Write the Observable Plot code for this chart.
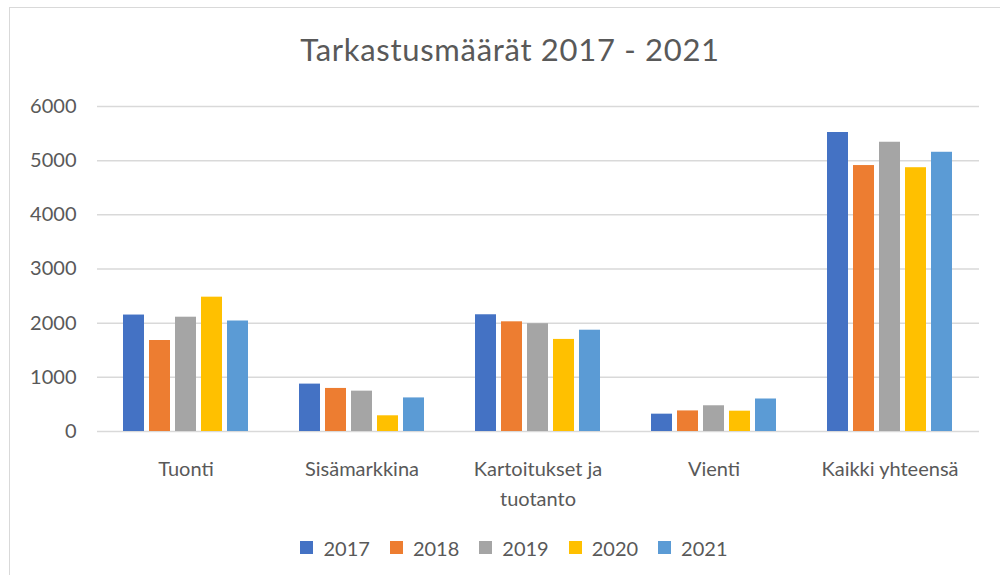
<!DOCTYPE html>
<html><head><meta charset="utf-8">
<script src="https://cdn.jsdelivr.net/npm/d3@7"></script>
<script src="https://cdn.jsdelivr.net/npm/@observablehq/plot@0.6"></script>
<style>
body{margin:0;background:#fff;font-family:Lato,sans-serif;width:1000px;height:575px;overflow:hidden;position:relative;}
#frame{position:absolute;left:9px;top:6.5px;width:1010px;height:600px;border:1.5px solid #d9d9d9;box-sizing:border-box;}
#title{position:absolute;left:10px;width:1000px;top:34px;text-align:center;font-size:31px;letter-spacing:0.7px;font-weight:400;color:#595959;line-height:1;}
.layer{position:absolute;left:0;top:0;}
#legend{position:absolute;top:531px;left:24px;width:1000px;display:flex;justify-content:center;}
</style></head><body>
<div id="frame"></div>
<div id="title">Tarkastusmäärät 2017 - 2021</div>
<div id="grid" class="layer"></div>
<div id="bars" class="layer"></div>
<div id="legend"></div>
<script>
const categories = ["Tuonti", "Sisämarkkina", "Kartoitukset ja tuotanto", "Vienti", "Kaikki yhteensä"];
const years = ["2017", "2018", "2019", "2020", "2021"];
const colors = ["#4472C4", "#ED7D31", "#A5A5A5", "#FFC000", "#5B9BD5"];
const v2017 = [2150, 875, 2155, 320, 5520];
const v2018 = [1680, 795, 2025, 380, 4910];
const v2019 = [2110, 745, 1990, 475, 5340];
const v2020 = [2480, 290, 1700, 375, 4870];
const v2021 = [2040, 620, 1870, 600, 5155];
const yTicks = [0, 1000, 2000, 3000, 4000, 5000, 6000];

const series = [v2017, v2018, v2019, v2020, v2021];
const data = [];
categories.forEach((c, i) => years.forEach((y, j) => data.push({category: c, year: y, value: series[j][i]})));

const W = 1000, H = 575;
const M = {marginTop: 106, marginBottom: 144, marginLeft: 97, marginRight: 21};
const font = {fontSize: "20px", fontFamily: "Lato, sans-serif", color: "#595959", background: "transparent"};

const grid = Plot.plot({
  width: W, height: H, ...M,
  style: font,
  y: {domain: [0, 6000], ticks: yTicks, tickSize: 0, tickPadding: 21, label: null, tickFormat: d => String(d)},
  marks: [
    Plot.ruleY(yTicks, {stroke: "#d9d9d9", strokeWidth: 1.5})
  ]
});
document.getElementById("grid").append(grid);

const bars = Plot.plot({
  width: W, height: H, ...M,
  style: font,
  fx: {domain: categories, paddingInner: 0.267, paddingOuter: 0.1335, axis: null, label: null},
  x: {domain: years, paddingInner: 0.21, paddingOuter: 0, axis: null},
  y: {domain: [0, 6000], axis: null},
  color: {domain: years, range: colors},
  marks: [
    Plot.barY(data, {fx: "category", x: "year", y: "value", fill: "year"}),
    Plot.text(categories, {fx: d => d, text: d => d.replace(" ja ", " ja\n"), frameAnchor: "bottom", lineAnchor: "top", dy: 23, lineHeight: 1.5, fill: "#595959"})
  ]
});
document.getElementById("bars").append(bars);

const legend = Plot.legend({
  legend: "swatches",
  color: {domain: years, range: colors},
  swatchSize: 13,
  style: {fontSize: "20px", fontFamily: "Lato, sans-serif", color: "#595959", background: "transparent"}
});
document.getElementById("legend").append(legend);
</script>
</body></html>
